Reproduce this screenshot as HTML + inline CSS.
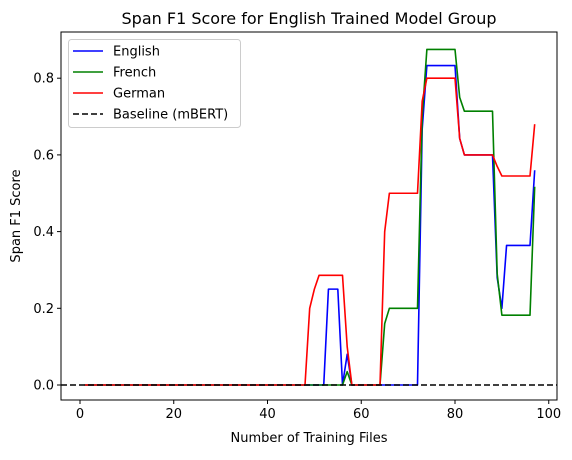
<!DOCTYPE html>
<html><head><meta charset="utf-8"><style>
body{margin:0;background:#fff;}
svg{font-family:"DejaVu Sans","Liberation Sans",sans-serif;}
</style></head><body>
<svg id="chart" width="572" height="455" viewBox="0 0 572 455"></svg>
<script>
const xTicks=[0,20,40,60,80,100];
const yTicks=[0.0,0.2,0.4,0.6,0.8];
const yTickLabels=["0.0","0.2","0.4","0.6","0.8"];
const englishX=[1,52,53,55,56,57,58,72,73,74,80,81,82,88,89,90,91,96,97];
const englishY=[0,0,0.25,0.25,0,0.08,0,0,0.667,0.833,0.833,0.643,0.6,0.6,0.28,0.2,0.364,0.364,0.56];
const frenchX=[1,56,57,58,64,65,66,72,73,74,80,81,82,88,89,90,96,97];
const frenchY=[0,0,0.035,0,0,0.16,0.2,0.2,0.7,0.875,0.875,0.75,0.714,0.714,0.29,0.182,0.182,0.517];
const germanX=[1,48,49,50,51,56,57,58,64,65,66,72,73,74,80,81,82,88,89,90,96,97];
const germanY=[0,0,0.2,0.25,0.286,0.286,0.1,0,0,0.4,0.5,0.5,0.74,0.8,0.8,0.643,0.6,0.6,0.57,0.545,0.545,0.68];
const baseline=0;
const L=61,R=557,T=32,B=400;
const sx=v=>80+v*4.6875;
const sy=v=>385-v*383.5;
const svg=document.getElementById('chart');
const NS='http://www.w3.org/2000/svg';
function mk(tag,attrs,parent){const e=document.createElementNS(NS,tag);for(const k in attrs)e.setAttribute(k,attrs[k]);(parent||svg).appendChild(e);return e;}
let t=mk('text',{x:309,y:24,'text-anchor':'middle','font-size':16,fill:'#000'});t.textContent='Span F1 Score for English Trained Model Group';


xTicks.forEach(v=>{
  const l=mk('line',{x1:sx(v),x2:sx(v),y1:B,y2:B+4,stroke:'#000','stroke-width':1});
  
  
  const tx=mk('text',{x:sx(v),y:B+18,'text-anchor':'middle','font-size':13});tx.textContent=String(v);
  
  
});
yTicks.forEach((v,i)=>{
  const l=mk('line',{x1:L-4,x2:L,y1:sy(v),y2:sy(v),stroke:'#000','stroke-width':1});
  
  
  const tx=mk('text',{x:L-7,y:sy(v)+4.5,'text-anchor':'end','font-size':13});tx.textContent=yTickLabels[i];
  
  
});
t=mk('text',{x:309,y:442,'text-anchor':'middle','font-size':13});t.textContent='Number of Training Files';


t=mk('text',{x:20,y:216,'text-anchor':'middle','font-size':13,transform:'rotate(-90 20 216)'});t.textContent='Span F1 Score';


function series(xs,ys,color,name){
  const p=mk('polyline',{points:xs.map((x,i)=>sx(x)+','+sy(ys[i])).join(' '),fill:'none',stroke:color,'stroke-width':1.6,'stroke-linejoin':'round'});
  
  
}
series(englishX,englishY,'#0000ff','english-line');
series(frenchX,frenchY,'#008000','french-line');
series(germanX,germanY,'#ff0000','german-line');
let b=mk('line',{x1:L,x2:R,y1:sy(baseline),y2:sy(baseline),stroke:'#000','stroke-width':1.6,'stroke-dasharray':'6,3'});


let fr=mk('rect',{x:L,y:T,width:R-L,height:B-T,fill:'none',stroke:'#000','stroke-width':1});


const lg=mk('g',{});


mk('rect',{x:68.5,y:39.5,width:172,height:88,rx:3,fill:'#fff','fill-opacity':0.8,stroke:'#ccc'},lg);
const names=['English','French','German','Baseline (mBERT)'];
const cols=['#0000ff','#008000','#ff0000','#000'];
names.forEach((n,i)=>{
  const y=51+i*21;
  const g=mk('g',{},lg);
  
  
  const a={x1:73,x2:103,y1:y,y2:y,stroke:cols[i],'stroke-width':1.6};
  if(i===3)a['stroke-dasharray']='6,3';
  mk('line',a,g);
  const tx=mk('text',{x:113,y:y+4.5,'font-size':13},g);tx.textContent=n;
});
</script>
</body></html>
